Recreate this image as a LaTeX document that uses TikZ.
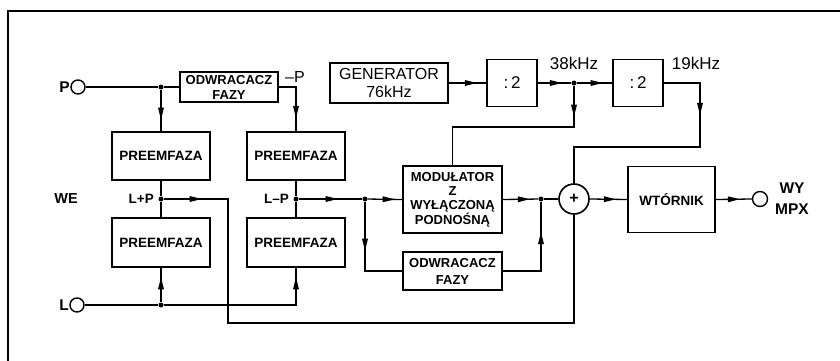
\documentclass[tikz,border=0pt]{standalone}
\usepackage{fontspec}
\setmainfont{Liberation Sans}
\usetikzlibrary{arrows.meta,decorations.markings}

\tikzset{
  blk/.style={draw, line width=1.6pt, align=center, inner sep=0pt,
    font=\fontsize{13.5}{15}\selectfont\bfseries},
  gblk/.style={draw, line width=1.6pt, align=center, inner sep=0pt,
    font=\fontsize{16}{18}\selectfont},
  wire/.style={line width=1.3pt},
  mid/.style={postaction={decorate}, decoration={markings,
    mark=at position #1 with {\fill (-12pt,-3pt) -- (0pt,0pt) -- (-12pt,3pt) -- cycle;}}},
  dot/.style={circle, fill, inner sep=0pt, minimum size=5pt},
  port/.style={circle, draw, line width=1.4pt, inner sep=0pt, minimum size=14pt},
  lbl/.style={inner sep=0pt, font=\fontsize{17}{19}\selectfont},
  blbl/.style={inner sep=0pt, font=\fontsize{13.5}{15}\selectfont\bfseries},
}

\begin{document}
\begin{tikzpicture}[x=1pt, y=-1pt]
  \useasboundingbox (0,0) rectangle (840,361);
  % frame
  \draw[line width=1.4pt] (8,361) -- (8,11) -- (840,11);

  % inputs
  \node[port] (pin) at (78,87) {};
  \node[lbl, font=\fontsize{15.5}{17}\selectfont\bfseries, anchor=east] (plab) at (70,87) {P};
  \node[port] (lin) at (77,305) {};
  \node[lbl, font=\fontsize{15.5}{17}\selectfont\bfseries, anchor=east] (llab) at (69,305) {L};
  \node[blbl, font=\fontsize{14.5}{16}\selectfont\bfseries] (we) at (66,199) {WE};

  % matrix part
  \node[dot] (jp) at (161,87) {};
  \node[blk, minimum width=98pt, minimum height=30pt, font=\fontsize{13}{15}\selectfont\bfseries]
    (odw1) at (229,87) {ODWRACACZ\\FAZY};
  \node[lbl, anchor=west, font=\fontsize{16}{18}\selectfont] (minp) at (285,77) {–P};
  \node[blk, minimum width=98pt, minimum height=48pt] (pre1) at (161,156) {PREEMFAZA};
  \node[blk, minimum width=98pt, minimum height=48pt] (pre2) at (296,156) {PREEMFAZA};
  \node[blk, minimum width=98pt, minimum height=49pt] (pre3) at (161,242.5) {PREEMFAZA};
  \node[blk, minimum width=98pt, minimum height=49pt] (pre4) at (296,242.5) {PREEMFAZA};
  \node[dot] (jlp) at (161,199) {};
  \node[dot] (jlm) at (296,199) {};
  \node[blbl, anchor=east] (lplab) at (154,199) {L+P};
  \node[blbl, anchor=east] (lmlab) at (289,199) {L–P};
  \node[dot] (jl) at (161,305) {};

  % pilot chain
  \node[gblk, minimum width=118pt, minimum height=40pt] (gen) at (389,83) {GENERATOR\\76kHz};
  \node[gblk, minimum width=50pt, minimum height=47pt, font=\fontsize{17}{19}\selectfont] (div1) at (512,83) {:\,2};
  \node[gblk, minimum width=50pt, minimum height=47pt, font=\fontsize{17}{19}\selectfont] (div2) at (638,83) {:\,2};
  \node[dot] (d38) at (574,83) {};
  \node[lbl] (f38) at (574,63) {38kHz};
  \node[lbl] (f19) at (696,63) {19kHz};
  \coordinate (c38) at (574,127);
  \coordinate (c19) at (700,147);

  % modulator part
  \node[blk, minimum width=99pt, minimum height=67pt, font=\fontsize{13}{14}\selectfont\bfseries]
    (mod) at (452.5,199.5) {MODUŁATOR\\Z\\WYŁĄCZONĄ\\PODNOŚNĄ};
  \node[blk, minimum width=99pt, minimum height=38pt, font=\fontsize{13}{17}\selectfont\bfseries]
    (odw2) at (452.5,271) {ODWRACACZ\\FAZY};
  \node[dot] (dm) at (365,199) {};
  \node[dot] (dp) at (541,199) {};
  \node[circle, draw, line width=1.6pt, minimum size=30pt, inner sep=0pt,
    font=\fontsize{16}{18}\selectfont\bfseries] (plus) at (574,199) {+};
  \node[blk, minimum width=87pt, minimum height=66pt] (wt) at (671.5,199.5) {WTÓRNIK};
  \node[port, minimum size=15pt] (out) at (760,199) {};
  \node[lbl, align=center, font=\fontsize{15.5}{21}\selectfont\bfseries] (outlab) at (792,199) {WY\\MPX};
  \coordinate (clp) at (228,323);

  % connections
  \draw[wire] (pin) -- (jp) -- (odw1);
  \draw[wire, mid=30pt] (jp) -- (pre1.north);
  \draw[wire, mid=48pt] (odw1.east) -| (pre2.north);
  \draw[wire] (pre1) -- (jlp) -- (pre3);
  \draw[wire] (pre2) -- (jlm) -- (pre4);
  \draw[wire] (lin) -- (jl);
  \draw[wire, mid=25pt] (jl) -- (pre3.south);
  \draw[wire, mid=160pt] (jl) -| (pre4.south);
  \draw[wire, mid=28pt] (gen) -- (div1);
  \draw[wire, mid=24pt] (div1) -- (d38);
  \draw[wire, mid=26pt] (d38) -- (div2);
  \draw[wire, mid=31pt] (d38) -- (c38) -| (mod.north);
  \draw[wire, mid=68pt] (div2.east) -| (c19) -| (plus.north);
  \draw[wire, mid=38pt] (jlp) -| (clp) -| (plus.south);
  \draw[wire, mid=39pt] (jlm) -- (dm);
  \draw[wire, mid=27pt] (dm) -- (mod.west);
  \draw[wire, mid=49pt] (dm) |- (odw2.west);
  \draw[wire, mid=27pt] (mod.east) -- (dp);
  \draw[wire] (dp) -- (plus.west);
  \draw[wire, mid=77pt] (odw2.east) -| (dp);
  \draw[wire, mid=26pt] (plus.east) -- (wt.west);
  \draw[wire, mid=24pt] (wt.east) -- (out.west);
\end{tikzpicture}
\end{document}
